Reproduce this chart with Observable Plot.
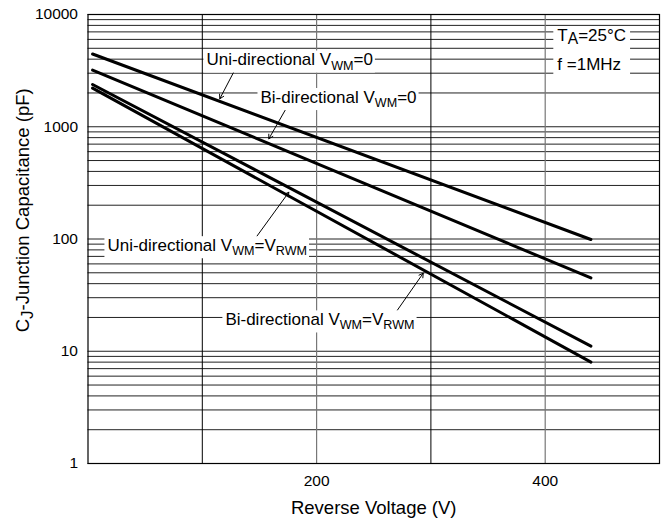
<!DOCTYPE html>
<html>
<head>
<meta charset="utf-8">
<script src="https://cdn.jsdelivr.net/npm/d3@7"></script>
<script src="https://cdn.jsdelivr.net/npm/@observablehq/plot@0.6"></script>
<style>
  body { margin: 0; background: #fff; }
  #chart svg { font-family: "Liberation Sans", Arial, sans-serif; }
</style>
</head>
<body>
<div id="chart"></div>
<script>
// ---- data ----
const voltage = [4, 440];                 // V, start and end of each curve
const uniZero = [4450, 99];               // Uni-directional VWM=0 (pF)
const biZero = [3200, 45];                // Bi-directional VWM=0
const uniRwm = [2380, 11.1];              // Uni-directional VWM=VRWM
const biRwm = [2210, 8.0];                // Bi-directional VWM=VRWM
const seriesNames = ["uniZero", "biZero", "uniRwm", "biRwm"];
const seriesValues = [uniZero, biZero, uniRwm, biRwm];

const xTickValues = [200, 400];
const yTickValues = [1, 10, 100, 1000, 10000];
const xGrid = [100, 200, 300, 400];
const yGrid = [1, 10, 100, 1000].flatMap(d => [1, 2, 3, 4, 5, 6, 7, 8, 9].map(k => k * d)).concat([10000]);

// curve labels ({..} = subscript) anchored in data units (left edge, baseline)
const curveLabels = ["Uni-directional V{WM}=0", "Bi-directional V{WM}=0", "Uni-directional V{WM}=V{RWM}", "Bi-directional V{WM}=V{RWM}"];
const labelV = [103.6, 150.9, 17.0, 120.2];
const labelC = [3513, 1628, 77.9, 17.0];

// leader arrows: from label to curve
const arrowV1 = [130.5, 175.7, 147.2, 270.5];
const arrowC1 = [3513, 1601, 104, 23.1];
const arrowV2 = [115.3, 158.2, 175.7, 293.3];
const arrowC2 = [1775, 781, 261, 49.6];

const conditions = ["T[A]=25°C", "f =1MHz"];
const conditionV = [410.6, 410.6];
const conditionC = [5866, 3236];

const xTitle = "Reverse Voltage (V)";
const yTitle = "C[J]-Junction Capacitance (pF)";
const yTitleCenter = 180;

// ---- build tables ----
const rows = seriesNames.flatMap((s, i) => voltage.map((v, j) => ({series: s, v, c: seriesValues[i][j]})));
const labelRows = curveLabels.map((t, i) => ({t, v: labelV[i], c: labelC[i]}));
const arrowRows = arrowV1.map((v, i) => ({v1: v, c1: arrowC1[i], v2: arrowV2[i], c2: arrowC2[i]}));
const condRows = conditions.map((t, i) => ({t, v: conditionV[i], c: conditionC[i]}));

const chart = Plot.plot({
  width: 669,
  height: 527,
  marginLeft: 87.5,
  marginRight: 10,
  marginTop: 14,
  marginBottom: 64,
  style: {fontFamily: "'Liberation Sans', Arial, sans-serif", fontSize: "15.5px", color: "#000", background: "#fff", overflow: "visible"},
  x: {domain: [0, 500], ticks: xTickValues, tickSize: 0, tickPadding: 11, label: null, tickFormat: d => String(d)},
  y: {type: "log", domain: [1, 10000], ticks: yTickValues, tickSize: 0, tickPadding: 10, label: null, tickFormat: d => String(d)},
  marks: [
    Plot.ruleY(yGrid, {stroke: "#222", strokeWidth: 1}),
    Plot.ruleX(xGrid.filter(d => d % 200 !== 0), {stroke: "#000", strokeWidth: 1}),
    Plot.ruleX(xGrid.filter(d => d % 200 === 0), {stroke: "#777", strokeWidth: 1.2}),
    Plot.frame({stroke: "#000", strokeWidth: 1.2}),
    Plot.line(rows, {x: "v", y: "c", z: "series", stroke: "#000", strokeWidth: 3}),
    Plot.arrow(arrowRows, {x1: "v1", y1: "c1", x2: "v2", y2: "c2", stroke: "#000", strokeWidth: 1, headLength: 7}),
    Plot.text(labelRows, {x: "v", y: "c", text: "t", textAnchor: "start", lineAnchor: "bottom", fontSize: 17, fill: "#000"}),
    Plot.text(condRows, {x: "v", y: "c", text: "t", textAnchor: "start", lineAnchor: "bottom", fontSize: 17, fill: "#000"}),
    Plot.text([xTitle], {frameAnchor: "bottom", dy: 45, lineAnchor: "middle", fontSize: 18.5, fill: "#000"}),
    Plot.text([yTitle], {frameAnchor: "left", y: () => yTitleCenter, rotate: -90, dx: -64.5, lineAnchor: "middle", textAnchor: "middle", fontSize: 18.5, fill: "#000"})
  ]
});

document.getElementById("chart").appendChild(chart);

// ---- sub/lowered text markup ----
const NS = "http://www.w3.org/2000/svg";
d3.select(chart).selectAll("text").each(function() {
  const s = this.textContent;
  if (!/[{\[]/.test(s)) return;
  const fs = parseFloat(getComputedStyle(this).fontSize) || 16;
  const parts = s.split(/(\{[^}]*\}|\[[^\]]*\])/).filter(p => p);
  this.textContent = "";
  let shift = 0;
  for (const p of parts) {
    const ts = document.createElementNS(NS, "tspan");
    let target = 0, txt = p, size = null;
    if (p[0] === "{") { txt = p.slice(1, -1); target = 0.24 * fs; size = 0.74 * fs; }
    else if (p[0] === "[") { txt = p.slice(1, -1); target = 0.18 * fs; size = 0.92 * fs; }
    if (target !== shift) ts.setAttribute("dy", (target - shift).toFixed(2));
    shift = target;
    if (size) ts.setAttribute("font-size", size.toFixed(2) + "px");
    ts.textContent = txt;
    this.appendChild(ts);
  }
});

// ---- white boxes behind annotations ----
const textGroups = Array.from(chart.querySelectorAll("g")).filter(g => {
  const ts = g.querySelectorAll(":scope > text");
  return ts.length && Array.from(ts).some(t => /directional|MHz/.test(t.textContent));
});
const svgRect = chart.getBoundingClientRect();
const boxes = [];
for (const g of textGroups) {
  const texts = Array.from(g.querySelectorAll(":scope > text"));
  if (texts.some(t => /MHz/.test(t.textContent))) {
    let x0 = Infinity, y0 = Infinity, x1 = -Infinity, y1 = -Infinity;
    for (const t of texts) {
      const r = t.getBoundingClientRect();
      x0 = Math.min(x0, r.left - svgRect.left); y0 = Math.min(y0, r.top - svgRect.top);
      x1 = Math.max(x1, r.right - svgRect.left); y1 = Math.max(y1, r.bottom - svgRect.top);
    }
    boxes.push({x: x0 - 4, y: y0 + 2, w: x1 - x0 + 8, h: y1 - y0 + 2});
  } else {
    for (const t of texts) {
      const r = t.getBoundingClientRect();
      boxes.push({x: r.left - svgRect.left - 3, y: r.top - svgRect.top, w: r.width + 5, h: r.height});
    }
  }
}
if (textGroups.length) {
  const bg = document.createElementNS(NS, "g");
  for (const b of boxes) {
    const r = document.createElementNS(NS, "rect");
    r.setAttribute("x", b.x); r.setAttribute("y", b.y);
    r.setAttribute("width", b.w); r.setAttribute("height", b.h);
    r.setAttribute("fill", "#fff");
    bg.appendChild(r);
  }
  textGroups[0].parentNode.insertBefore(bg, textGroups[0]);
}
</script>
</body>
</html>
